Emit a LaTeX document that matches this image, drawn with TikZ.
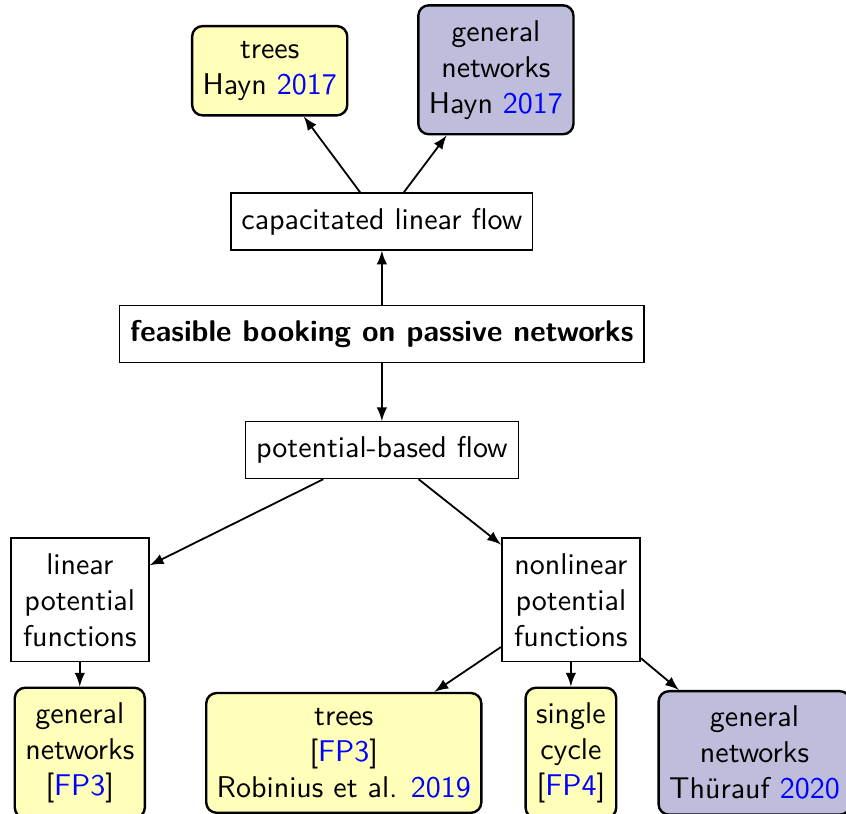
\documentclass[tikz,border=0pt]{standalone}
\usetikzlibrary{positioning, arrows}
\definecolor{treeyellow}{RGB}{255,255,185}
\definecolor{netpurple}{RGB}{190,189,219}
\newcommand{\refnum}[1]{\textcolor{blue}{#1}}
\tikzset{
>=latex, % arrow heads
every node/.style={font=\sffamily},
plain/.style={draw, inner xsep=3.5pt, inner ysep=5pt, align=center}, % problem boxes
branch/.style={plain, semithick, text width=39pt}, % potential function boxes
result/.style={plain, thick, rounded corners=3.5pt}, % known results
open/.style={result, fill=treeyellow},
hard/.style={result, fill=netpurple},
}

\begin{document}
\begin{tikzpicture}
                \useasboundingbox (-127.3pt,-160pt) rectangle (154.7pt,111.3pt);

                \node[plain] (main) {\textbf{feasible booking on passive networks}};
                \node[plain, above=18pt of main] (cap) {capacitated linear flow};
                \node[plain, below=19.3pt of main] (pot) {potential-based flow};

                \node[open, above=25.3pt of cap, xshift=-37.4pt] (captrees) {trees\\Hayn \refnum{2017}};
                \node[hard, above=19pt of cap, xshift=38pt] (capgen) {general\\networks\\Hayn \refnum{2017}};

                \node[branch, below=19.4pt of pot, xshift=-100.7pt] (lin) {linear\\potential\\functions};
                \node[branch, below=19.4pt of pot, xshift=63pt] (nonlin) {nonlinear\\potential\\functions};

                \node[open] (lingen) at ([yshift=-51pt]lin.center) {general\\networks\\{[}\refnum{FP3}{]}};
                \node[open] (nltrees) at ([xshift=-75.7pt,yshift=-51pt]nonlin.center) {trees\\{[}\refnum{FP3}{]}\\Robinius et al. \refnum{2019}};
                \node[open] (nlcycle) at ([yshift=-51pt]nonlin.center) {single\\cycle\\{[}\refnum{FP4}{]}};
                \node[hard] (nlgen) at ([xshift=61.2pt,yshift=-51pt]nonlin.center) {general\\networks\\Th\"urauf \refnum{2020}};

                \draw[->, semithick] (main) -- (cap);
                \draw[->, semithick] (main) -- (pot);
                \draw[->, semithick] (cap) -- (captrees);
                \draw[->, semithick] (cap) -- (capgen);
                \draw[->, semithick] (pot) -- (lin);
                \draw[->, semithick] (pot) -- (nonlin);
                \draw[->, semithick] (lin) -- (lingen);
                \draw[->, semithick] (nonlin) -- (nltrees);
                \draw[->, semithick] (nonlin) -- (nlcycle);
                \draw[->, semithick] (nonlin) -- (nlgen);
            \end{tikzpicture}
\end{document}
